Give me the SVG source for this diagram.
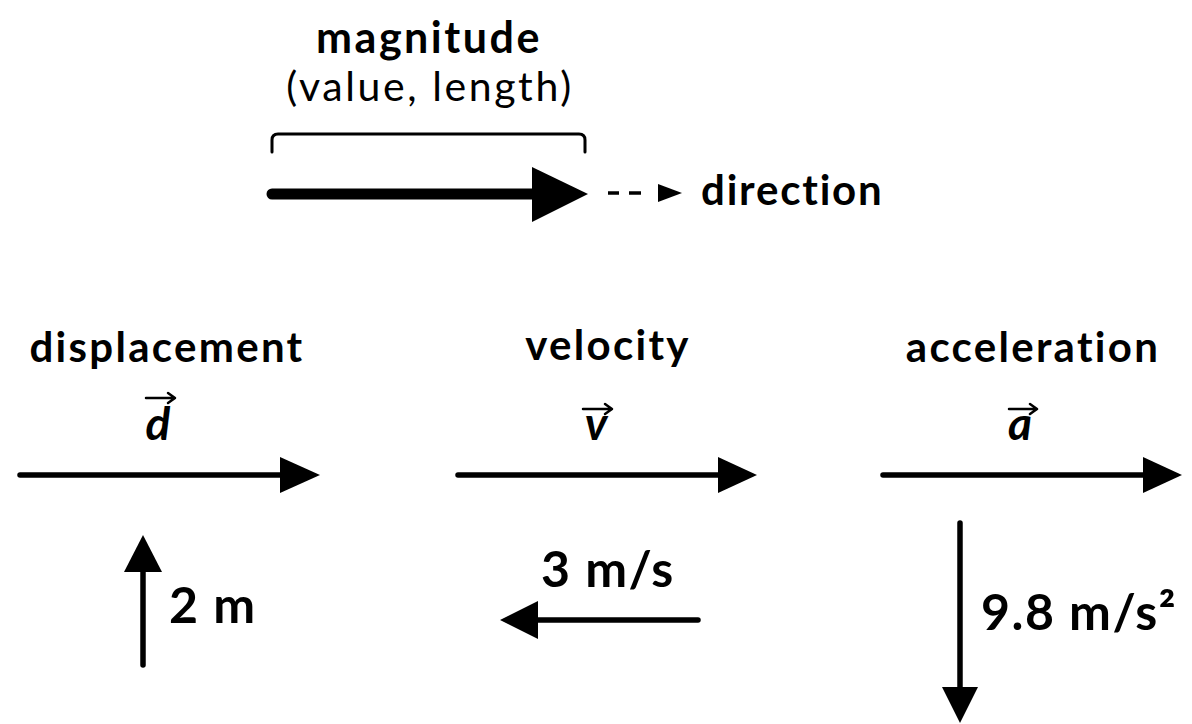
<svg xmlns="http://www.w3.org/2000/svg" width="1192" height="724" viewBox="0 0 1192 724">
<style>
text{font-family:Lato,"Open Sans","Liberation Sans",sans-serif;fill:#000}
.b{font-weight:700}
.lbl{font-size:42px;font-weight:700;text-anchor:middle;letter-spacing:2.3px}
.vec{font-size:46px;font-weight:700;font-style:italic;text-anchor:middle}
.val{font-size:50px;font-weight:700;letter-spacing:1.5px}
.ln{stroke:#000;fill:none;stroke-linecap:round}
.sm{stroke:#000;fill:none;stroke-width:2.5;stroke-linecap:round;stroke-linejoin:round}
.hd{fill:#000}
</style>
<rect width="1192" height="724" fill="#fff"/>
<g id="legend">
<text x="429" y="53" class="b" style="font-size:43px;text-anchor:middle;letter-spacing:2.5px">magnitude</text>
<text x="430" y="101" style="font-size:41px;text-anchor:middle;letter-spacing:2.6px">(value, length)</text>
<path class="ln" style="stroke-width:3" d="M272,152 V140 Q272,134 278,134 H579 Q585,134 585,140 V152"/>
<text x="701" y="205" class="b" style="font-size:42px;letter-spacing:1.8px">direction</text>
</g>
<g id="displacement">
<text x="167" y="362" class="lbl">displacement</text>
<text x="158" y="440" class="vec">d</text>
<path class="sm" d="M146,398 H174 M168,393 L175,398 L168,403"/>
<text x="169" y="623" class="val">2 m</text>
</g>
<g id="velocity">
<text x="608" y="360" class="lbl">velocity</text>
<text x="596" y="440" class="vec">v</text>
<path class="sm" d="M583,409 H611 M605,404 L612,409 L605,414"/>
<text x="541" y="587" class="val">3 m/s</text>
</g>
<g id="acceleration">
<text x="1033" y="362" class="lbl">acceleration</text>
<text x="1020" y="440" class="vec">a</text>
<path class="sm" d="M1009,409 H1036 M1030,404 L1037,409 L1030,414"/>
<text x="981" y="630" class="val">9.8 m/s²</text>
</g>
<g id="connectors">
<line class="ln" x1="272" y1="194" x2="536" y2="194" style="stroke-width:11"/>
<polygon class="hd" points="532,167 588,194 532,222"/>
<line x1="608" y1="193" x2="619" y2="193" stroke="#000" stroke-width="3.5"/>
<line x1="629" y1="193" x2="641" y2="193" stroke="#000" stroke-width="3.5"/>
<polygon class="hd" points="658,184 682,193 658,202"/>
<line class="ln" x1="20" y1="475" x2="284" y2="475" style="stroke-width:5.5"/>
<polygon class="hd" points="280,457 320,475 280,493"/>
<line class="ln" x1="458" y1="475" x2="722" y2="475" style="stroke-width:5.5"/>
<polygon class="hd" points="718,457 757,475 718,493"/>
<line class="ln" x1="883" y1="475" x2="1147" y2="475" style="stroke-width:5.5"/>
<polygon class="hd" points="1143,457 1182,475 1143,493"/>
<line class="ln" x1="143" y1="665" x2="143" y2="568" style="stroke-width:5.5"/>
<polygon class="hd" points="124,572 143,535 162,572"/>
<line class="ln" x1="698" y1="620" x2="534" y2="620" style="stroke-width:5.5"/>
<polygon class="hd" points="500,620 538,601 538,639"/>
<line class="ln" x1="960" y1="523" x2="960" y2="691" style="stroke-width:5.5"/>
<polygon class="hd" points="942,687 978,687 960,723"/>
</g>
</svg>
